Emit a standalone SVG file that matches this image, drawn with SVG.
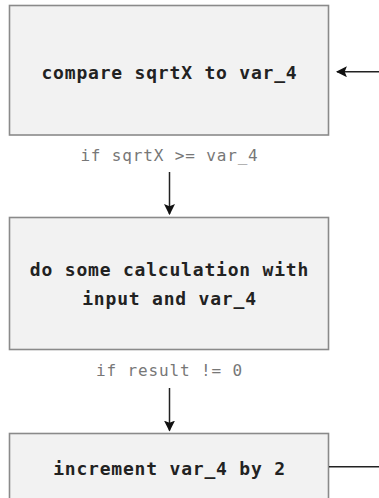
<svg xmlns="http://www.w3.org/2000/svg" width="379" height="498" viewBox="0 0 379 498">
  <style>
    .box { fill: #f2f2f2; stroke: #8a8a8a; stroke-width: 1.6; }
    .txt { font-family: "DejaVu Sans Mono", "Liberation Mono", monospace; font-size: 18px; font-weight: bold; fill: #222; text-anchor: middle; letter-spacing: 0.8px; }
    .lbl { font-family: "DejaVu Sans Mono", "Liberation Mono", monospace; font-size: 16px; fill: #777; text-anchor: middle; letter-spacing: 0.85px; }
    .conn { stroke: #222; stroke-width: 1.5; fill: none; }
  </style>
  <defs>
    <marker id="ah" viewBox="0 0 10 10" refX="9" refY="5" markerWidth="11" markerHeight="11" markerUnits="userSpaceOnUse" orient="auto">
      <path d="M0,0 L10,5 L0,10 L2,5 Z" fill="#111"/>
    </marker>
  </defs>
  <g id="node-compare">
    <rect class="box" x="9.5" y="5.5" width="319" height="129.5"/>
    <text class="txt" x="169.5" y="78.5">compare sqrtX to var_4</text>
  </g>
  <g id="node-calc">
    <rect class="box" x="9.5" y="217.5" width="319" height="132"/>
    <text class="txt" x="169.5" y="276">do some calculation with</text>
    <text class="txt" x="169.5" y="305">input and var_4</text>
  </g>
  <g id="node-increment">
    <rect class="box" x="9.5" y="433.5" width="319" height="80"/>
    <text class="txt" x="169.5" y="475">increment var_4 by 2</text>
  </g>
  <g id="connectors">
    <line class="conn" x1="169.5" y1="172" x2="169.5" y2="214" marker-end="url(#ah)"/>
    <text class="lbl" x="169.5" y="161">if sqrtX &gt;= var_4</text>
    <line class="conn" x1="169.5" y1="388" x2="169.5" y2="430.5" marker-end="url(#ah)"/>
    <text class="lbl" x="169.5" y="375.5">if result != 0</text>
    <line class="conn" x1="379" y1="71.7" x2="337" y2="71.7" marker-end="url(#ah)"/>
    <line class="conn" x1="329" y1="466.7" x2="379" y2="466.7"/>
  </g>
</svg>
